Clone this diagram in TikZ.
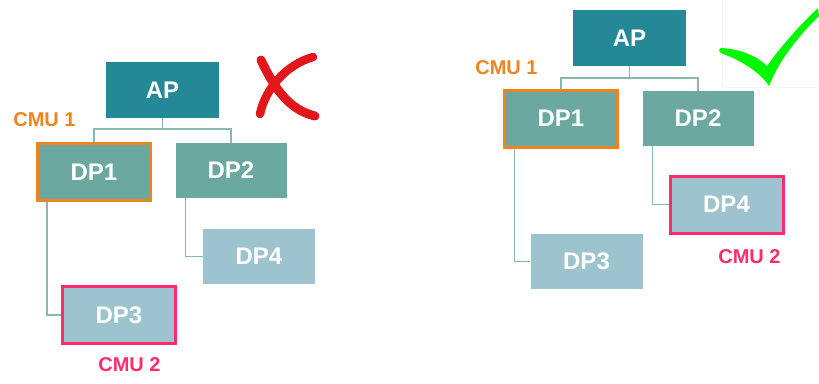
\documentclass[tikz,border=0pt]{standalone}
\usepackage{fontspec}
\setmainfont{Liberation Sans}
\usetikzlibrary{positioning, calc}

\definecolor{apcol}{HTML}{258896}
\definecolor{midcol}{HTML}{6BA9A0}
\definecolor{lowcol}{HTML}{9DC4CE}
\definecolor{linkcol}{HTML}{86B9B4}
\definecolor{cmuone}{HTML}{EF8320}
\definecolor{cmutwo}{HTML}{FF2C6C}
\definecolor{crosscol}{HTML}{E2171B}
\definecolor{tickcol}{HTML}{00F700}

\begin{document}
\begin{tikzpicture}[x=1pt,y=-1pt,
  box/.style={rectangle,inner sep=0pt,text=white,font=\bfseries\fontsize{24}{24}\selectfont},
  apbox/.style={box,fill=apcol,minimum width=113pt,minimum height=56pt},
  midbox/.style={box,fill=midcol,minimum width=111pt,minimum height=55pt},
  lowbox/.style={box,fill=lowcol,minimum width=112pt,minimum height=55pt},
  cmuA/.style={draw=cmuone,line width=3pt,minimum width=113pt,minimum height=57pt},
  cmuB/.style={draw=cmutwo,line width=3pt,minimum width=113pt,minimum height=57pt},
  link/.style={draw=linkcol,line width=1.6pt},
  tag/.style={font=\bfseries\fontsize{20}{20}\selectfont}]
\useasboundingbox (0,0) rectangle (819,383);

% left tree (wrong)
\node[apbox] (apL) at (162.5,90) {AP};
\node[midbox,cmuA] (dp1L) at (94,172) {DP1};
\node[midbox] (dp2L) at (231,170.5) {DP2};
\node[lowbox] (dp4L) at (259,256.5) {DP4};
\node[lowbox,cmuB] (dp3L) at (119,315) {DP3};
\coordinate (jL) at ($(apL.south)+(0,11)$);
\draw[link] (apL.south) -- (jL);
\draw[link] (jL) -| (dp1L.north);
\draw[link] (jL) -| (dp2L.north);
\draw[link] ($(dp1L.south west)+(11,0)$) |- (dp3L.west);
\draw[link] ($(dp2L.south west)+(10,0)$) |- (dp4L.west);
\node[tag,text=cmuone] (c1L) at (44.5,120) {CMU 1};
\node[tag,text=cmutwo] (c2L) at (129.5,365) {CMU 2};

% cross
\draw[crosscol,line width=9pt,line cap=round] (261,60) .. controls (275,90) and (290,110) .. (315,116);
\draw[crosscol,line width=8.5pt,line cap=round] (313,57) .. controls (285,65) and (265,90) .. (260,114);

% right tree (right)
\node[apbox] (apR) at (629.5,38) {AP};
\node[midbox,cmuA] (dp1R) at (561,118.5) {DP1};
\node[midbox] (dp2R) at (698,118.5) {DP2};
\node[lowbox,cmuB] (dp4R) at (726.5,204.5) {DP4};
\node[lowbox] (dp3R) at (586.5,261.5) {DP3};
\coordinate (jR) at ($(apR.south)+(0,12)$);
\draw[link] (apR.south) -- (jR);
\draw[link] (jR) -| (dp1R.north);
\draw[link] (jR) -| (dp2R.north);
\draw[link] ($(dp1R.south west)+(11.5,0)$) |- (dp3R.west);
\draw[link] ($(dp2R.south west)+(10,0)$) |- (dp4R.west);
\node[tag,text=cmuone] (c1R) at (506.5,68) {CMU 1};
\node[tag,text=cmutwo] (c2R) at (749.5,257) {CMU 2};

% tick
\draw[black!4,line width=0.5pt] (722.5,0) -- (722.5,87) -- (819,87);
\fill[tickcol] (721,48) .. controls (740,49) and (757,56) .. (767,66)
  .. controls (782,45) and (800,25) .. (818,8) -- (819,16)
  .. controls (800,35) and (780,58) .. (769,86)
  .. controls (760,72) and (740,60) .. (723,54)
  .. controls (719,53) and (718,49) .. cycle;
\end{tikzpicture}
\end{document}
